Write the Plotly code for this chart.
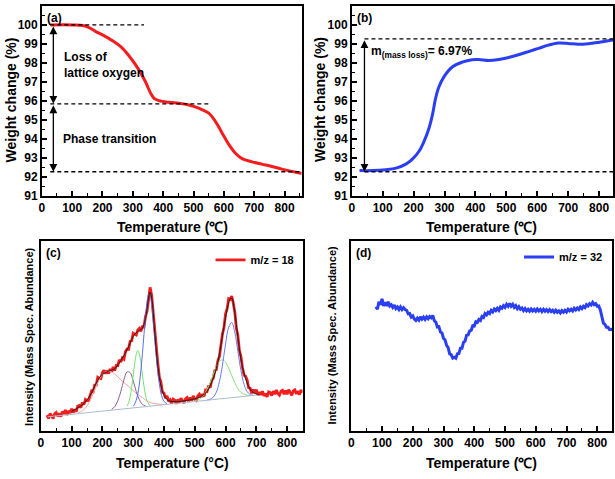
import plotly.graph_objects as go

# ---------------- data ----------------
# (a) TGA curve (red)
tga_a_T = [28, 102, 135, 156, 178, 200, 233, 266, 299, 321, 342, 359, 370, 386, 419, 452, 485, 517, 550,
           572, 594, 616, 638, 660, 693, 725, 758, 791, 824, 857]
tga_a_W = [100.0, 100.0, 99.97, 99.86, 99.65, 99.48, 99.17, 98.77, 98.13, 97.61, 97.0, 96.4, 96.14, 96.02,
           95.93, 95.88, 95.79, 95.62, 95.36, 94.93, 94.32, 93.72, 93.25, 92.97, 92.80, 92.68, 92.56, 92.42,
           92.30, 92.19]
# (b) TGA curve (blue)
tga_b_T = [25, 68, 110, 143, 175, 196, 218, 234, 250, 261, 271, 282, 298, 325, 357, 389, 411, 443, 475, 507,
           539, 572, 604, 636, 668, 700, 732, 765, 797, 845]
tga_b_W = [92.34, 92.34, 92.39, 92.47, 92.68, 92.94, 93.37, 93.89, 94.58, 95.28, 96.14, 96.75, 97.27, 97.79,
           98.04, 98.17, 98.18, 98.13, 98.18, 98.29, 98.43, 98.60, 98.77, 98.94, 99.05, 99.03, 98.98, 99.01,
           99.08, 99.21]

# reference levels (dashed)
a_levels = [100.0, 95.85, 92.28]
a_level_end = [337, 550, 857]
a_level_start = 28
b_levels = [99.27, 92.28]
b_level_start = 41

# (c) MS m/z = 18 (red, raw)
ms18_T = list(range(20, 851, 5))
ms18_I = [47, 37, 52, 42, 37, 51, 55, 44, 52, 43, 58, 51, 63, 48, 60, 54, 67, 55, 65, 58,
          75, 77, 70, 86, 79, 95, 91, 92, 111, 121, 118, 139, 139, 163, 160, 159, 177, 184, 174, 183,
          174, 188, 180, 194, 183, 199, 198, 216, 209, 222, 218, 241, 249, 248, 272, 274, 297, 293, 292, 307,
          312, 303, 317, 316, 348, 364, 396, 437, 412, 355, 302, 237, 206, 163, 149, 117, 115, 99, 106, 89,
          94, 83, 96, 93, 82, 95, 85, 99, 89, 84, 97, 101, 90, 101, 91, 106, 96, 92, 106, 111,
          101, 111, 104, 123, 120, 137, 131, 153, 159, 183, 186, 213, 226, 267, 295, 315, 356, 371, 402, 400,
          410, 389, 362, 313, 290, 244, 226, 192, 169, 166, 155, 131, 129, 114, 125, 115, 125, 108, 117, 109,
          120, 106, 113, 103, 118, 116, 107, 120, 111, 124, 113, 108, 120, 123, 111, 122, 111, 125, 114, 108,
          121, 124, 112, 120, 110, 124, 116]
# fitted envelope (black)
fit_T = [100, 120, 140, 160, 180, 200, 220, 240, 260, 280, 300, 310, 320, 330, 340, 345, 350, 355, 360, 365,
         370, 380, 390, 400, 410, 420, 440, 460, 480, 500, 520, 540, 560, 570, 580, 590, 600, 610, 615, 620,
         630, 640, 650, 660, 670, 680, 690, 700, 710]
fit_I = [59, 69, 83, 107, 145, 172, 181, 189, 214, 246, 287, 299, 305, 313, 342, 370, 405, 422, 405, 360,
         300, 198, 138, 108, 95, 90, 88, 90, 93, 97, 104, 120, 160, 190, 232, 290, 345, 390, 403, 404,
         360, 285, 218, 175, 145, 126, 116, 112, 110]
# fitted baseline
base_T = [22, 707]
base_I = [42, 109]
# fitted components
c1_T = list(range(120, 401, 10))
c1_I = [54, 58, 64, 75, 91, 112, 136, 156, 171, 179, 181, 179, 173, 164, 155, 146, 139, 131, 122, 114,
        107, 101, 93, 88, 84, 82, 81, 80, 80]
c2_T = list(range(230, 341, 10))
c2_I = [65, 73, 91, 120, 155, 179, 177, 152, 119, 94, 80, 75]
c3_T = list(range(280, 356, 5))
c3_I = [75, 85, 103, 132, 167, 205, 233, 245, 234, 207, 170, 136, 108, 91, 82, 75]
c4_T = [300, 305, 310, 315, 320, 325, 330, 335, 340, 345, 350, 355, 360, 365, 370, 375, 380, 385, 390, 395,
        400, 410]
c4_I = [74, 81, 93, 112, 142, 183, 235, 293, 348, 392, 415, 413, 386, 340, 284, 229, 179, 142, 115, 99, 89, 82]
c5_T = list(range(500, 681, 10))
c5_I = [91, 94, 100, 110, 126, 147, 171, 195, 211, 216, 208, 190, 168, 146, 128, 117, 111, 108, 107]
c6_T = list(range(540, 691, 10))
c6_I = [93, 96, 102, 117, 149, 200, 264, 315, 330, 300, 242, 183, 141, 119, 110, 108]

# (d) MS m/z = 32 (blue, raw)
ms32_T = list(range(80, 851, 5))
ms32_I = [378, 370, 393, 384, 402, 380, 391, 380, 393, 380, 384, 376, 383, 372, 377, 369, 377, 369, 375, 369,
          367, 356, 357, 346, 350, 340, 336, 343, 337, 347, 340, 346, 339, 347, 341, 348, 344, 351, 335, 331,
          316, 317, 301, 298, 281, 277, 260, 253, 234, 232, 221, 224, 221, 234, 235, 251, 251, 269, 273, 291,
          292, 304, 306, 320, 319, 332, 330, 339, 336, 348, 345, 357, 353, 361, 357, 367, 362, 371, 366, 373,
          367, 377, 373, 381, 376, 385, 379, 388, 379, 385, 376, 381, 372, 378, 370, 374, 366, 372, 365, 370,
          364, 371, 365, 370, 364, 371, 365, 370, 363, 370, 364, 369, 363, 369, 363, 367, 361, 367, 361, 365,
          359, 366, 361, 367, 362, 370, 365, 370, 365, 373, 368, 374, 369, 377, 372, 379, 375, 384, 380, 387,
          383, 391, 384, 387, 379, 380, 368, 347, 328, 324, 315, 315, 308, 309, 307]

# ---------------- styling ----------------
FONT = "Liberation Sans"
W, H = 615, 479
RED = "#f41c1c"
BLUE = "#2b3ff2"


def px(x):
    return x / W


def py(y):
    return 1 - y / H


fig = go.Figure()

fig.add_trace(go.Scatter(x=tga_a_T, y=tga_a_W, mode="lines", line=dict(color=RED, width=3, shape="spline"),
                         xaxis="x", yaxis="y", showlegend=False))
fig.add_trace(go.Scatter(x=tga_b_T, y=tga_b_W, mode="lines", line=dict(color=BLUE, width=3, shape="spline"),
                         xaxis="x2", yaxis="y2", showlegend=False))

# (c)
fig.add_trace(go.Scatter(x=ms18_T, y=ms18_I, mode="lines", line=dict(color=RED, width=2.8),
                         xaxis="x3", yaxis="y3", name="<b>m/z = 18</b>", legend="legend"))
for tt, ii, col in [(c1_T, c1_I, "#f3a3a3"), (c2_T, c2_I, "#8f5f95"), (c3_T, c3_I, "#79e06f"),
                    (c4_T, c4_I, "#5a6ef0"), (c5_T, c5_I, "#86e07a"), (c6_T, c6_I, "#6a7cf0"),
                    (base_T, base_I, "#a9bccb")]:
    fig.add_trace(go.Scatter(x=tt, y=ii, mode="lines", line=dict(color=col, width=1, shape="spline"),
                             xaxis="x3", yaxis="y3", showlegend=False))
fig.add_trace(go.Scatter(x=fit_T, y=fit_I, mode="lines", line=dict(color="#222222", width=1, shape="spline"),
                         xaxis="x3", yaxis="y3", showlegend=False))

# (d)
fig.add_trace(go.Scatter(x=ms32_T, y=ms32_I, mode="lines", line=dict(color=BLUE, width=3),
                         xaxis="x4", yaxis="y4", name="<b>m/z = 32</b>", legend="legend2"))

tickfont = dict(family=FONT, size=12, color="black", weight="bold")
common = dict(showline=True, linecolor="black", linewidth=1.5, mirror=True, ticks="inside", ticklen=5,
              tickwidth=1.5, tickcolor="black", showgrid=False, zeroline=False, tickfont=tickfont)


def xax(dom, rng, anchor):
    return dict(domain=dom, range=rng, anchor=anchor, tick0=0, dtick=100,
                minor=dict(ticks="inside", ticklen=3, tickwidth=1, dtick=50, tickcolor="black"), **common)


def yax_w(dom, anchor):
    return dict(domain=dom, range=[91, 101], anchor=anchor, dtick=1,
                minor=dict(ticks="inside", ticklen=3, tickwidth=1, dtick=0.5, tickcolor="black"), **common)


def yax_i(dom, anchor):
    d = dict(common)
    d.update(ticks="", showticklabels=False)
    return dict(domain=dom, range=[0, 577], anchor=anchor, **d)


fig.update_layout(
    width=W, height=H, autosize=False,
    margin=dict(l=0, r=0, t=0, b=0),
    paper_bgcolor="white", plot_bgcolor="white",
    font=dict(family=FONT, color="black"),
    xaxis=xax([px(39), px(300)], [0, 856], "y"),
    yaxis=yax_w([py(199), py(6)], "x"),
    xaxis2=xax([px(350.5), px(613)], [0, 845], "y2"),
    yaxis2=yax_w([py(199), py(6)], "x2"),
    xaxis3=xax([px(38), px(301)], [0, 850], "y3"),
    yaxis3=yax_i([py(437), py(245)], "x3"),
    xaxis4=xax([px(350), px(612)], [0, 848], "y4"),
    yaxis4=yax_i([py(437), py(245)], "x4"),
    legend=dict(x=px(298), y=py(249), xanchor="right", yanchor="top", bgcolor="rgba(0,0,0,0)",
                font=dict(family=FONT, size=11, color="black"), itemwidth=30),
    legend2=dict(x=px(608), y=py(246), xanchor="right", yanchor="top", bgcolor="rgba(0,0,0,0)",
                 font=dict(family=FONT, size=11, color="black"), itemwidth=30),
)

# dashed reference lines
shapes = []
for lvl, xe in zip(a_levels, a_level_end):
    shapes.append(dict(type="line", xref="x", yref="y", x0=a_level_start, x1=xe, y0=lvl, y1=lvl,
                       line=dict(color="black", width=1.3, dash="4px,3px")))
for lvl in b_levels:
    shapes.append(dict(type="line", xref="x2", yref="y2", x0=b_level_start, x1=845, y0=lvl, y1=lvl,
                       line=dict(color="black", width=1.3, dash="4px,3px")))
fig.update_layout(shapes=shapes)

ann = []
# double arrows
ann.append(dict(xref="x", yref="y", axref="x", ayref="y", x=38, y=a_levels[1], ax=38, ay=a_levels[0],
                text="", showarrow=True, arrowhead=2, arrowside="end+start", arrowwidth=1.3, arrowsize=1.2,
                arrowcolor="black", standoff=0, startstandoff=0))
ann.append(dict(xref="x", yref="y", axref="x", ayref="y", x=38, y=a_levels[2], ax=38, ay=a_levels[1],
                text="", showarrow=True, arrowhead=2, arrowside="end+start", arrowwidth=1.3, arrowsize=1.2,
                arrowcolor="black", standoff=0, startstandoff=0))
ann.append(dict(xref="x2", yref="y2", axref="x2", ayref="y2", x=41, y=b_levels[1], ax=41, ay=b_levels[0],
                text="", showarrow=True, arrowhead=2, arrowside="end+start", arrowwidth=1.3, arrowsize=1.2,
                arrowcolor="black", standoff=0, startstandoff=0))

bold12 = dict(family=FONT, size=12, color="black", weight="bold")
ann.append(dict(xref="x", yref="y", x=65, y=97.9, text="Loss of<br>lattice oxygen", showarrow=False,
                xanchor="left", align="left", font=bold12))
ann.append(dict(xref="x", yref="y", x=62, y=93.98, text="Phase transition", showarrow=False,
                xanchor="left", font=bold12))
ann.append(dict(xref="x2", yref="y2", x=55, y=98.56, text="m<sub>(mass loss)</sub>= 6.97%", showarrow=False,
                xanchor="left", font=bold12))

for lab, xr, yr in [("(a)", "x domain", "y domain"), ("(b)", "x2 domain", "y2 domain"),
                    ("(c)", "x3 domain", "y3 domain"), ("(d)", "x4 domain", "y4 domain")]:
    ann.append(dict(xref=xr, yref=yr, x=0.012, y=0.985, text=lab, showarrow=False, xanchor="left",
                    yanchor="top", font=bold12))

title_font = dict(family=FONT, size=14, color="black", weight="bold")
for t, x, y in [("Temperature (℃)", 170, 230), ("Temperature (℃)", 481, 230),
                ("Temperature (°C)", 170, 470), ("Temperature (℃)", 481, 470)]:
    ann.append(dict(xref="paper", yref="paper", x=px(x), y=py(y), text=t, showarrow=False,
                    xanchor="center", yanchor="middle", font=title_font))
for t, x, y, s in [("Weight change (%)", 8, 101, 14), ("Weight change (%)", 318, 101, 14),
                   ("Intensity (Mass Spec. Abundance)", 26, 342, 11),
                   ("Intensity (Mass Spec. Abundance)", 331, 340, 11)]:
    ann.append(dict(xref="paper", yref="paper", x=px(x), y=py(y), text=t, showarrow=False, textangle=-90,
                    xanchor="center", yanchor="middle",
                    font=dict(family=FONT, size=s, color="black", weight="bold")))
fig.update_layout(annotations=ann)

fig.write_html("out.html", config={"displayModeBar": False}, post_script=(
    "document.body.style.margin='0';document.body.style.padding='0';"
    "document.body.style.overflow='hidden';"))
